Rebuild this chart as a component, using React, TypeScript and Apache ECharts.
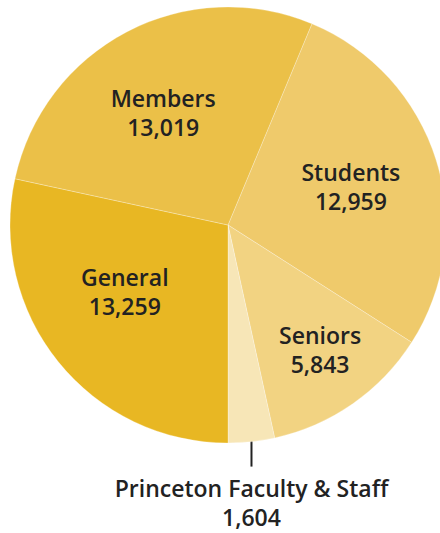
import React, { useEffect, useRef } from "react";
import * as echarts from "echarts";

const categories = ["Students", "Seniors", "Princeton Faculty & Staff", "General", "Members"];
const values = [12959, 5843, 1604, 13259, 13019];
const colors = ["#EFCA6B", "#F2D382", "#F7E6B7", "#E8B723", "#EBC048"];
const labelOffsets: number[][] = [[16, -5], [28, 33], [0, 0], [-16, -4], [-13, -13]];

const CX = 228;
const CY = 225;
const R = 218;

export default function App() {
  const ref = useRef<HTMLDivElement>(null);
  useEffect(() => {
    if (!ref.current) return;
    const chart = echarts.init(ref.current, undefined, { renderer: "svg" });
    const total = values.reduce((a, b) => a + b, 0);
    const beforeGeneral = values[0] + values[1] + values[2];
    const startCw = 180 - (beforeGeneral / total) * 360;
    const startAngle = 90 - startCw;
    const facMid = startCw + ((values[0] + values[1] + values[2] / 2) / total) * 360;
    const facRad = (facMid * Math.PI) / 180;
    const lx = CX + R * Math.sin(facRad);
    const lyStart = CY - (R - 12) * Math.cos(facRad);
    const lyEnd = CY - (R + 25) * Math.cos(facRad);

    const textStyle = {
      color: "#222222",
      fontFamily: "Open Sans",
      fontWeight: 600,
      fontSize: 23,
      lineHeight: 29,
    };

    chart.setOption({
      animation: false,
      series: [
        {
          type: "pie",
          center: [CX, CY],
          radius: R,
          startAngle,
          clockwise: true,
          avoidLabelOverlap: false,
          itemStyle: { borderColor: "rgba(255,255,255,0.45)", borderWidth: 0.6 },
          label: {
            show: true,
            position: "inside",
            formatter: (p: any) => `${p.name}\n${p.value.toLocaleString("en-US")}`,
            ...textStyle,
          },
          labelLine: { show: false },
          labelLayout: (p: any) => {
            if (p.dataIndex === 2) {
              return {
                x: lx,
                y: 502,
                align: "center",
                verticalAlign: "middle",
                labelLinePoints: [
                  [lx, lyStart],
                  [lx, lyEnd],
                  [lx, lyEnd],
                ],
              };
            }
            return {};
          },
          data: categories.map((name, i) => ({
            name,
            value: values[i],
            itemStyle: { color: colors[i] },
            label:
              i === 2
                ? { position: "outside", ...textStyle }
                : { offset: labelOffsets[i] },
            labelLine:
              i === 2
                ? {
                    show: true,
                    showAbove: true,
                    lineStyle: { color: "#222222", width: 2 },
                    length: 25,
                    length2: 0,
                  }
                : { show: false },
          })),
        },
      ],
    });
    return () => chart.dispose();
  }, []);
  return (
    <div
      ref={ref}
      style={{ position: "fixed", left: 0, top: 0, width: 440, height: 533, background: "#ffffff" }}
    />
  );
}
